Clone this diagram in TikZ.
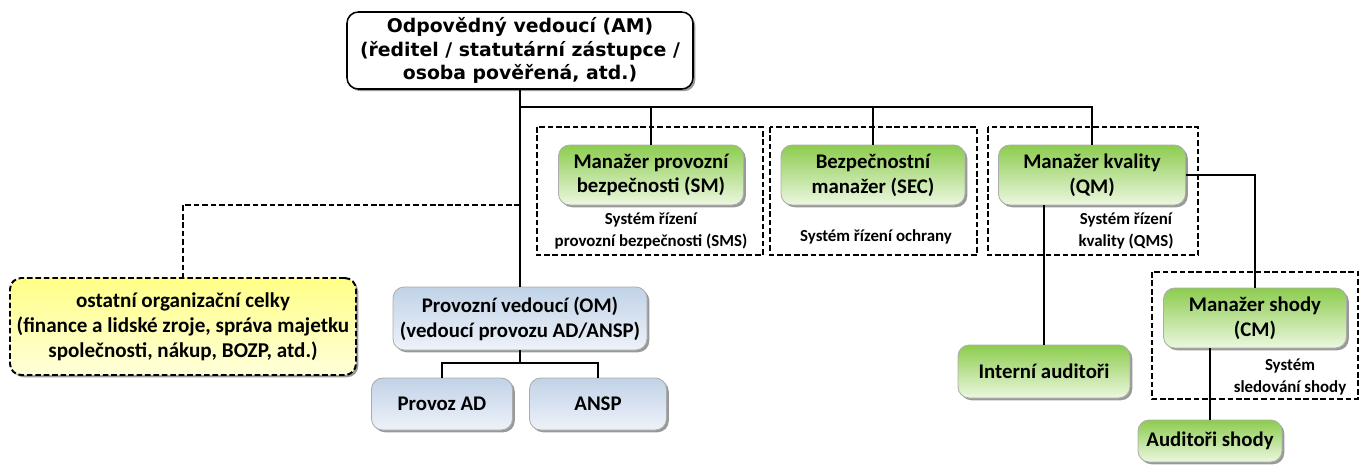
\documentclass[tikz,border=0pt]{standalone}
\usepackage{fontspec}
\setmainfont{Carlito}
\newfontfamily\amfont{DejaVu Sans}
\usetikzlibrary{shadows}

\definecolor{grtop}{RGB}{140,204,78}
\definecolor{grbot}{RGB}{236,247,224}
\definecolor{bltop}{RGB}{193,210,231}
\definecolor{blbot}{RGB}{238,242,249}
\definecolor{yetop}{RGB}{255,255,135}
\definecolor{yebot}{RGB}{255,255,218}

\tikzset{
  unitbox/.style={rounded corners=8pt,draw=gray!65,line width=0.6pt,align=center,
    font=\bfseries\fontsize{14.8}{17.7}\selectfont,
    drop shadow={shadow xshift=1.6pt,shadow yshift=-1.6pt,fill=black,opacity=0.4}},
  grnbox/.style={unitbox,top color=grtop,bottom color=grbot},
  bluebox/.style={unitbox,top color=bltop,bottom color=blbot},
  yelbox/.style={unitbox,top color=yetop,bottom color=yebot,draw=black,line width=1.4pt,
    dash pattern=on 4pt off 2pt,font=\bfseries\fontsize{15}{17.7}\selectfont},
  groupbox/.style={draw=black,line width=1.4pt,dash pattern=on 4pt off 2pt},
  syslabel/.style={align=center,font=\bfseries\fontsize{12}{15.6}\selectfont},
  link/.style={line width=1.6pt},
  dlink/.style={line width=1.6pt,dash pattern=on 4pt off 2pt}
}

\begin{document}
\begin{tikzpicture}[x=0.025cm,y=-0.025cm]
\useasboundingbox (0,0) rectangle (1368,466);
% dashed frames of the management systems
\draw[groupbox] (537,127) rectangle (763,255);
\draw[groupbox] (770,127) rectangle (977,255);
\draw[groupbox] (988,127) rectangle (1198,255);
\draw[groupbox] (1152,272) rectangle (1358,399);
% boxes
\node[unitbox,draw=black,line width=1.1pt,fill=white,minimum width=346*0.025cm,minimum height=77*0.025cm,
  font=\amfont\bfseries\fontsize{13.4}{17}\selectfont] (am) at (520,50.5)
  {Odpovědný vedoucí (AM)\\(ředitel / statutární zástupce /\\osoba pověřená, atd.)};
\node[grnbox,minimum width=185*0.025cm,minimum height=60*0.025cm] (sm) at (651,175) {Manažer provozní\\bezpečnosti (SM)};
\node[grnbox,minimum width=184*0.025cm,minimum height=60*0.025cm] (sec) at (873,175) {Bezpečnostní\\manažer (SEC)};
\node[grnbox,minimum width=187*0.025cm,minimum height=60*0.025cm] (qm) at (1092,175) {Manažer kvality\\(QM)};
\node[yelbox,minimum width=346*0.025cm,minimum height=97*0.025cm] (ost) at (183,326.5)
  {ostatní organizační celky\\(finance a lidské zroje, správa majetku\\společnosti, nákup, BOZP, atd.)};
\node[bluebox,minimum width=254*0.025cm,minimum height=63*0.025cm] (om) at (520,318.5) {Provozní vedoucí (OM)\\(vedoucí provozu AD/ANSP)};
\node[bluebox,minimum width=141*0.025cm,minimum height=52*0.025cm] (pad) at (442,404) {Provoz AD};
\node[bluebox,minimum width=137*0.025cm,minimum height=52*0.025cm] (ansp) at (598,404) {ANSP};
\node[grnbox,minimum width=172*0.025cm,minimum height=53*0.025cm] (ia) at (1044,371.5) {Interní auditoři};
\node[grnbox,minimum width=183*0.025cm,minimum height=60*0.025cm] (cm) at (1255,318) {Manažer shody\\(CM)};
\node[grnbox,minimum width=144*0.025cm,minimum height=42*0.025cm] (as) at (1210,441) {Auditoři shody};
% system labels
\node[syslabel] (sms) at (651,231) {Systém řízení\\provozní bezpečnosti (SMS)};
\node[syslabel] (och) at (876,237) {Systém řízení ochrany};
\node[syslabel] (qms) at (1126,231) {Systém řízení\\kvality (QMS)};
\node[syslabel] (sls) at (1290,377) {Systém\\sledování shody};
% connectors
\coordinate (bus) at (520,107);
\draw[link] (am.south) -- (om.north);
\draw[link] (bus) -| (sm.north);
\draw[link] (bus) -| (sec.north);
\draw[link] (bus) -| (qm.north);
\draw[dlink] (am.south |- 0,205) -| (ost.north);
\coordinate (fork) at (520,363);
\draw[link] (om.south) -- (fork);
\draw[link] (fork) -| (pad.north);
\draw[link] (fork) -| (ansp.north);
\draw[link] (qm.east) -| (cm.north);
\draw[link] (qm.south -| ia.north) -- (ia.north);
\draw[link] (cm.south -| as.north) -- (as.north);
\end{tikzpicture}
\end{document}
